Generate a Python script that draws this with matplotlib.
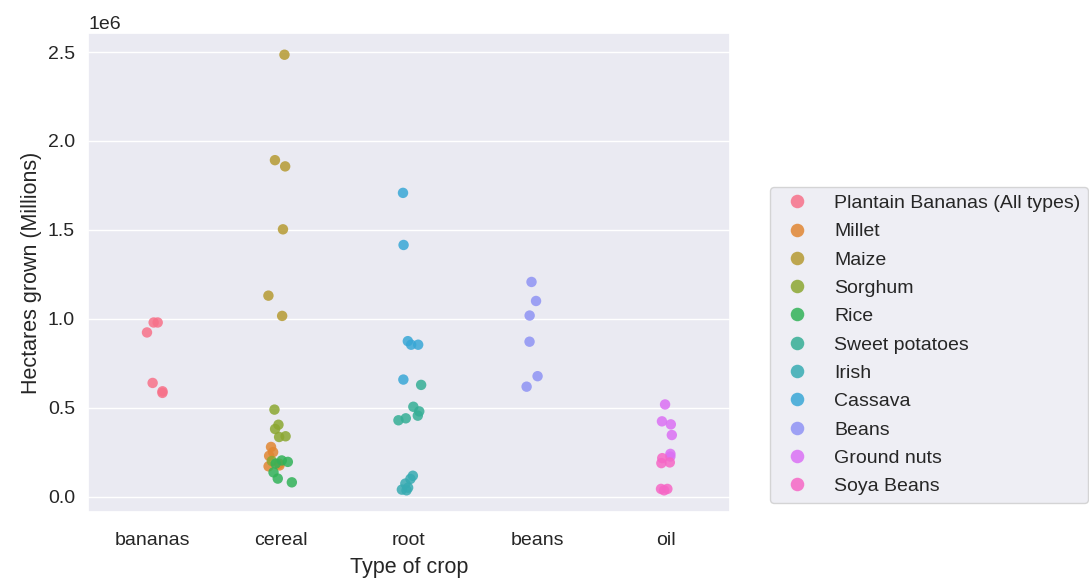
import numpy as np
import pandas as pd
import matplotlib
matplotlib.use("Agg")
import matplotlib.pyplot as plt
import seaborn as sns

# crop types on the x axis
CATEGORIES = ["bananas", "cereal", "root", "beans", "oil"]

# hectares grown per crop (millions)
plantain = [0.979, 0.979, 0.923, 0.639, 0.583, 0.592]
millet = [0.279, 0.250, 0.229, 0.185, 0.170, 0.175]
maize = [2.485, 1.892, 1.857, 1.503, 1.130, 1.016]
sorghum = [0.489, 0.404, 0.380, 0.339, 0.335, 0.200]
rice = [0.203, 0.195, 0.185, 0.136, 0.101, 0.080]
sweet_potatoes = [0.628, 0.505, 0.479, 0.455, 0.440, 0.429]
irish = [0.117, 0.099, 0.073, 0.039, 0.035, 0.050]
cassava = [1.708, 1.415, 0.874, 0.854, 0.854, 0.658]
beans = [1.207, 1.100, 1.018, 0.871, 0.677, 0.618]
ground_nuts = [0.518, 0.423, 0.406, 0.346, 0.240, 0.225]
soya_beans = [0.216, 0.192, 0.188, 0.043, 0.043, 0.035]

CROPS = [
    ("Plantain Bananas (All types)", "bananas", plantain),
    ("Millet", "cereal", millet),
    ("Maize", "cereal", maize),
    ("Sorghum", "cereal", sorghum),
    ("Rice", "cereal", rice),
    ("Sweet potatoes", "root", sweet_potatoes),
    ("Irish", "root", irish),
    ("Cassava", "root", cassava),
    ("Beans", "beans", beans),
    ("Ground nuts", "oil", ground_nuts),
    ("Soya Beans", "oil", soya_beans),
]

rows = []
for name, ctype, vals in CROPS:
    for v in vals:
        rows.append({"Crop": name, "Type": ctype, "Hectares": v * 1e6})
df = pd.DataFrame(rows)

sns.set_theme(style="darkgrid")
plt.rcParams["font.family"] = ["Liberation Sans", "DejaVu Sans"]

fig = plt.figure(figsize=(10.89, 5.78), dpi=100)
ax = fig.add_axes([0.081, 0.114, 0.589, 0.829])

np.random.seed(3)
sns.stripplot(data=df, x="Type", y="Hectares", hue="Crop", order=CATEGORIES,
              hue_order=[c[0] for c in CROPS], palette="husl", size=7.5,
              alpha=0.85, jitter=True, ax=ax)

ax.set_xlabel("Type of crop", fontsize=15.5, labelpad=6)
ax.set_ylabel("Hectares grown (Millions)", fontsize=15.5)
ax.tick_params(labelsize=14)
ax.tick_params(axis="x", pad=8)
ax.yaxis.get_offset_text().set_fontsize(14)

ax.legend_.remove()
handles, labels = ax.get_legend_handles_labels()
fig.legend(handles, labels, loc="upper left", bbox_to_anchor=(0.707, 0.677),
           borderaxespad=0, fontsize=14, markerscale=1.3, frameon=True,
           borderpad=0.4, labelspacing=0.55, handletextpad=0.9)

fig.savefig("out.png", dpi=100)
